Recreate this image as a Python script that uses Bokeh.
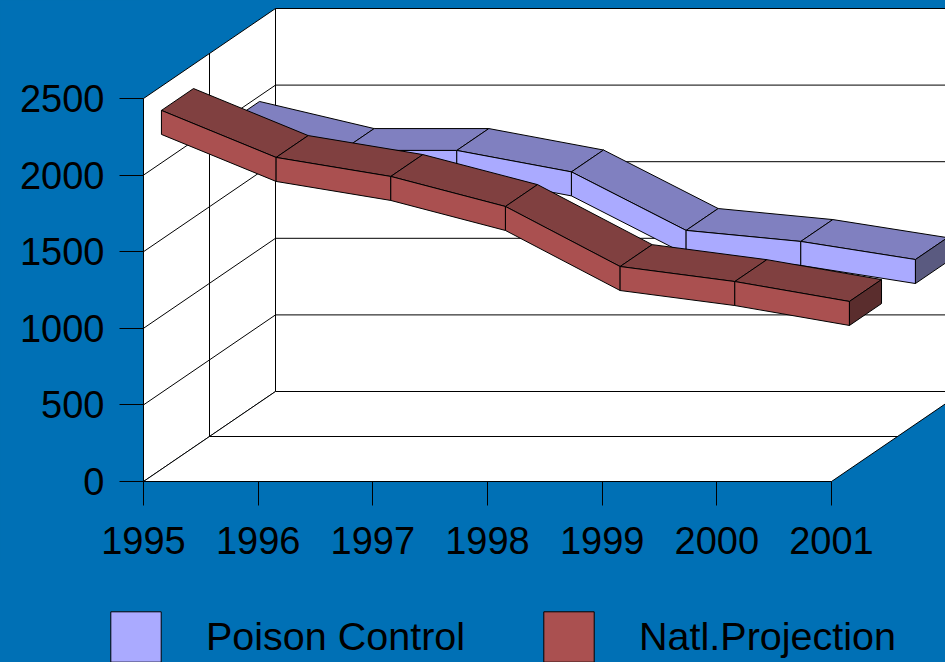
from bokeh.plotting import figure
from bokeh.layouts import column
from bokeh.models import ColumnDataSource, Range1d, FixedTicker, Legend, LegendItem
from bokeh.embed import file_html
from bokeh.resources import INLINE

years = [1995, 1996, 1997, 1998, 1999, 2000, 2001]
value_ticks = [0, 500, 1000, 1500, 2000, 2500]
poison_control = [1886, 1709, 1709, 1569, 1187, 1115, 997]
natl_projection = [2264, 1957, 1833, 1637, 1245, 1147, 1017]
series_names = ["Poison Control", "Natl.Projection"]

W, H = 945, 662
LEFT, BASE = 143, 481
CHART_H = 562
PX_YEAR = 688 / 6
PX_VALUE = 383 / 2500
DEPTH_X = 132 / PX_YEAR
DEPTH_Y = 90 / PX_VALUE
THICK = 24 / PX_VALUE
BG = "#0070B5"
FONT = "Liberation Sans"
BLUE = ("#AAAAFF", "#8080C0", "#5A5A80")
RED = ("#AA5050", "#804040", "#5A2D2D")


def px(year, d):
    return year + d * DEPTH_X


def py(val, d):
    return val + d * DEPTH_Y


p = figure(
    width=W, height=CHART_H, output_backend="svg", toolbar_location=None,
    x_range=Range1d(years[0], years[0] + (W - LEFT) / PX_YEAR),
    y_range=Range1d(0, BASE / PX_VALUE),
    min_border_left=LEFT, min_border_right=0, min_border_top=0, min_border_bottom=CHART_H - BASE,
    frame_width=W - LEFT, frame_height=BASE, frame_align=False,
    background_fill_alpha=0, border_fill_color=BG, outline_line_color=None,
)
p.grid.visible = False

y0, y1 = years[0], years[-1]
vtop = value_ticks[-1]
walls = dict(
    xs=[
        [px(y0, 1), px(y1, 1), px(y1, 1), px(y0, 1)],
        [px(y0, 0), px(y0, 1), px(y0, 1), px(y0, 0)],
        [px(y0, 0), px(y1, 0), px(y1, 1), px(y0, 1)],
    ],
    ys=[
        [py(0, 1), py(0, 1), py(vtop, 1), py(vtop, 1)],
        [py(0, 0), py(0, 1), py(vtop, 1), py(vtop, 0)],
        [py(0, 0), py(0, 0), py(0, 1), py(0, 1)],
    ],
)
p.patches("xs", "ys", source=ColumnDataSource(walls), fill_color="white",
          line_color="black", line_width=1)

for v in value_ticks[1:-1]:
    p.line([px(y0, 0), px(y0, 1), px(y1, 1)], [py(v, 0), py(v, 1), py(v, 1)],
           line_color="black", line_width=1)
p.line([px(y0, 0.5), px(y0, 0.5), px(y1, 0.5)], [py(vtop, 0.5), py(0, 0.5), py(0, 0.5)],
       line_color="black", line_width=1)


def ribbon(vals, d0, d1, colors):
    front, top, end = colors
    half = THICK / 2
    top_x, top_y, fr_x, fr_y = [], [], [], []
    for i in range(len(years) - 1):
        a, b = years[i], years[i + 1]
        va, vb = vals[i], vals[i + 1]
        top_x.append([px(a, d0), px(b, d0), px(b, d1), px(a, d1)])
        top_y.append([py(va + half, d0), py(vb + half, d0), py(vb + half, d1), py(va + half, d1)])
        fr_x.append([px(a, d0), px(b, d0), px(b, d0), px(a, d0)])
        fr_y.append([py(va + half, d0), py(vb + half, d0), py(vb - half, d0), py(va - half, d0)])
    a, va = years[-1], vals[-1]
    end_x = [[px(a, d0), px(a, d1), px(a, d1), px(a, d0)]]
    end_y = [[py(va + half, d0), py(va + half, d1), py(va - half, d1), py(va - half, d0)]]
    p.patches(top_x, top_y, fill_color=top, line_color="black", line_width=1)
    p.patches(fr_x, fr_y, fill_color=front, line_color="black", line_width=1)
    p.patches(end_x, end_y, fill_color=end, line_color="black", line_width=1)


ribbon(poison_control, 0.636, 0.879, BLUE)
ribbon(natl_projection, 0.136, 0.379, RED)

for ax, ticks, bounds in ((p.xaxis[0], years, (y0, y1)), (p.yaxis[0], value_ticks, (0, vtop))):
    ax.ticker = FixedTicker(ticks=ticks)
    ax.bounds = bounds
    ax.major_tick_out = 24
    ax.major_tick_in = 0
    ax.minor_tick_out = 0
    ax.minor_tick_in = 0
    ax.major_tick_line_color = "black"
    ax.axis_line_color = "black"
    ax.major_label_text_font = FONT
    ax.major_label_text_font_size = "38px"
    ax.major_label_text_color = "black"
p.xaxis[0].major_label_standoff = 21
p.yaxis[0].major_label_standoff = 15
p.xaxis[0].formatter.use_scientific = False
p.yaxis[0].formatter.use_scientific = False

# legend strip: a second figure, because a legend outside the frame is clipped
k = figure(
    width=W, height=H - CHART_H, output_backend="svg", toolbar_location=None,
    x_range=Range1d(0, 1), y_range=Range1d(0, 1), frame_align=False,
    min_border_left=0, min_border_right=0, min_border_top=0, min_border_bottom=0,
    background_fill_color=BG, border_fill_color=BG, outline_line_color=None,
)
k.axis.visible = False
k.grid.visible = False
r_blue = k.patches([[]], [[]], fill_color=BLUE[0], line_color="black", line_width=1)
r_red = k.patches([[]], [[]], fill_color=RED[0], line_color="black", line_width=1)
legend = Legend(
    items=[LegendItem(label=series_names[0], renderers=[r_blue]),
           LegendItem(label=series_names[1], renderers=[r_red])],
    orientation="horizontal", location=(104, -6),
    glyph_width=63, glyph_height=63, label_standoff=39, spacing=72,
    padding=0, margin=0, border_line_color=None, background_fill_alpha=0,
    label_text_font=FONT, label_text_font_size="39.5px", label_text_color="black",
    label_text_baseline="middle",
)
k.add_layout(legend)

page = column(p, k, spacing=0)
page.styles = {"position": "fixed", "left": "0", "top": "0", "background-color": BG}

open("out.html", "w").write(file_html(page, INLINE))
